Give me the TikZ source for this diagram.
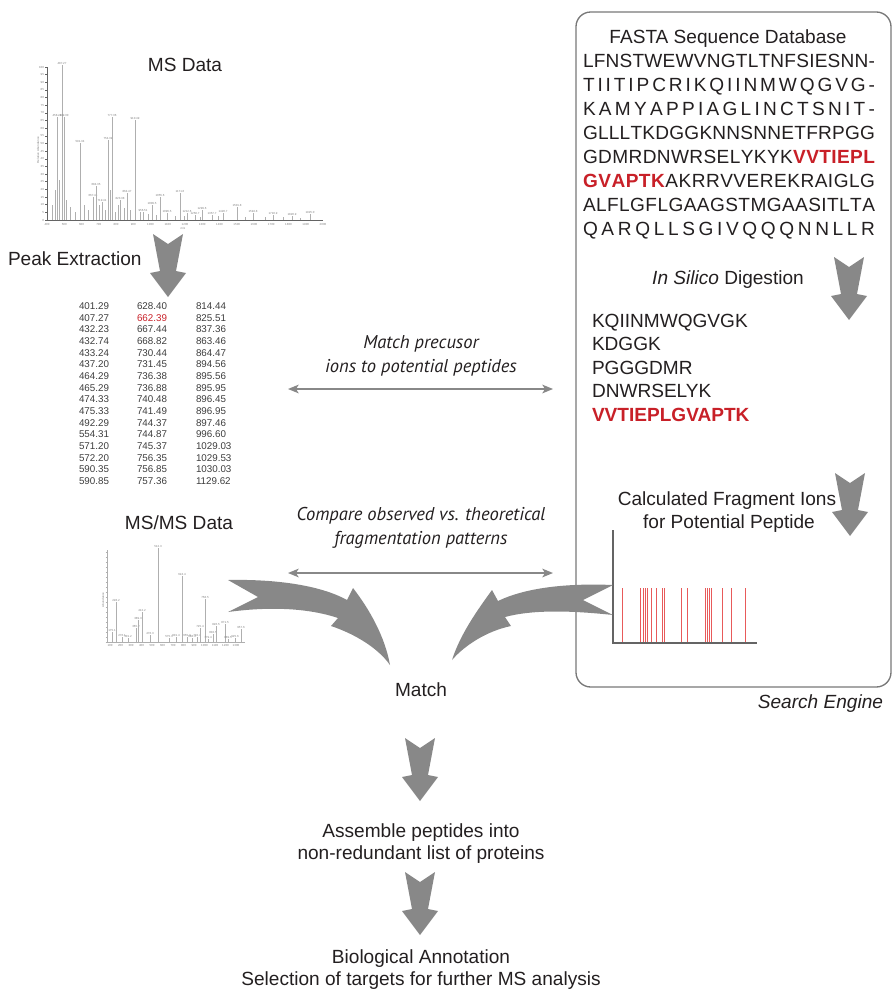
\documentclass[tikz,border=0pt]{standalone}
\usepackage{fontspec}
\setmainfont{Liberation Sans}
\newfontfamily\mpfont{PT Sans}
\usetikzlibrary{arrows.meta}
\definecolor{txt}{RGB}{35,31,32}
\definecolor{arr}{RGB}{136,136,136}
\definecolor{seqred}{RGB}{200,32,40}
\definecolor{fragred}{RGB}{232,90,90}
\definecolor{tabgray}{RGB}{60,60,60}
\definecolor{speccol}{RGB}{175,175,175}
\definecolor{boxcol}{RGB}{120,120,120}
\definecolor{axcol}{RGB}{100,100,100}
\newcommand\mainsz{\fontsize{14.3pt}{17pt}\selectfont}
\def\spr#1{#1\futurelet\sprnext\sprb}
\def\sprglue{\hskip 0pt plus 1fil minus 1fil\relax}
\def\sprb{\ifx\sprnext\relax\expandafter\sprstop\else\sprglue\expandafter\spr\fi}
\def\sprstop\relax{}
\newcommand\seqline[1]{\hbox to 219pt{#1}}
\begin{document}
\begin{tikzpicture}[x=0.75pt,y=-0.75pt,
  every node/.style={inner sep=0pt, outer sep=0pt, text=txt},
  lab/.style={font=\mainsz, anchor=base},
  labw/.style={font=\mainsz, anchor=base west},
  itl/.style={font=\mpfont\itshape\fontsize{13.9pt}{16pt}\selectfont, anchor=base},
  tab/.style={font=\fontsize{7.35pt}{8pt}\selectfont, text=tabgray, anchor=base west},
  tinyl/.style={font=\fontsize{2.2pt}{2.5pt}\selectfont, text=gray},
  spec/.style={draw=speccol, line width=0.35pt},
  axis/.style={draw=axcol, line width=0.4pt},
  dbl/.style={draw=arr, line width=1.1pt, {Stealth[length=8pt,width=6.5pt,inset=2pt]}-{Stealth[length=8pt,width=6.5pt,inset=2pt]}},
  blockdown/.pic={\fill[arr] (-15,0) -- (0,10) -- (15,0) -- (8,37) -- (18,39) -- (0,63) -- (-18,39) -- (-8,37) -- cycle;}
]
\useasboundingbox (0,0) rectangle (893,993);

% ---------------- MS Data ----------------
\node[lab] (msdata) at (185,71) {MS Data};
\draw[axis] (47,67) -- (47,220) -- (323,220);
\foreach \k in {0,...,20} {
  \draw[axis] (45,{220-7.65*\k}) -- (47,{220-7.65*\k});
  \pgfmathtruncatemacro\lbl{5*\k}
  \node[tinyl, anchor=east] (my\k) at (44,{220-7.65*\k}) {\lbl};
}
\foreach \k in {0,...,16} {
  \pgfmathtruncatemacro\lbl{400+100*\k}
  \node[tinyl] (mx\k) at ({47+17.25*\k},224) {\lbl};
}
\node[tinyl, rotate=90] (myl) at (38,150) {Relative Abundance};
\node[tinyl] (mxl) at (183,228) {m/z};
\foreach \x/\t/\l [count=\i] in {57/117/458.21, 62/65/487.27, 64/117/499.30, 80/143/591.34,
  93/197/667.44, 96/186/684.35, 102/202/719.41, 108/140/754.39, 112/117/777.36,
  120/200/823.38, 127/193/864.47, 135/120/910.49, 143/212/956.51, 152/205/1009.5,
  160/197/1055.6, 167/213/1096.5, 180/193/1171.6, 187/213/1212.6, 195/215/1258.7,
  202/210/1299.6, 212/215/1357.7, 223/213/1420.7, 237/207/1501.8, 253/213/1594.8,
  273/215/1710.9, 292/216/1820.9, 310/214/1925.0} {
  \draw[spec] (\x,220) -- (\x,\t);
  \node[tinyl, anchor=south] (mp\i) at (\x,{\t-0.5}) {\l};
}
\foreach \x/\t in {52/205, 55/190, 59/180, 66/200, 70/207, 75/212, 84/205, 88/210,
  99/205, 105/210, 110/190, 115/212, 118/205, 124/208, 130/210, 140/212, 148/214,
  156/215, 175/216, 184/216, 200/217, 218/216, 245/217, 265/217, 283/217, 300/218} {
  \draw[spec] (\x,220) -- (\x,\t);
}

% ---------------- Peak Extraction ----------------
\node[labw] (peakex) at (8,265) {Peak Extraction};
\pic at (168,234) {blockdown};
\foreach \a/\b/\c [count=\i from 0] in {401.29/628.40/814.44, 407.27/{\textcolor{seqred}{662.39}}/825.51,
  432.23/667.44/837.36, 432.74/668.82/863.46, 433.24/730.44/864.47, 437.20/731.45/894.56,
  464.29/736.38/895.56, 465.29/736.88/895.95, 474.33/740.48/896.45, 475.33/741.49/896.95,
  492.29/744.37/897.46, 554.31/744.87/996.60, 571.20/745.37/1029.03, 572.20/756.35/1029.53,
  590.35/756.85/1030.03, 590.85/757.36/1129.62} {
  \node[tab] (ta\i) at (79,309.5+11.67*\i) {\a};
  \node[tab] (tb\i) at (137,309.5+11.67*\i) {\b};
  \node[tab] (tc\i) at (196,309.5+11.67*\i) {\c};
}

% ---------------- Search engine box ----------------
\node[draw=boxcol, rounded corners=11pt, line width=1pt, minimum width=236.25pt,
  minimum height=506.25pt, anchor=north west] (searchbox) at (576,12) {};
\node[lab] (fasta) at (728,43) {FASTA Sequence Database};
\node[labw] (s1) at (583,67) {\mainsz\seqline{\spr LFNSTWEWVNGTLTNFSIESNN-\relax}};
\node[labw] (s2) at (583,91) {\mainsz\seqline{\spr TIITIPCRIKQIINMWQGVG-\relax}};
\node[labw] (s3) at (583,115) {\mainsz\seqline{\spr KAMYAPPIAGLINCTSNIT-\relax}};
\node[labw] (s4) at (583,139) {\mainsz\seqline{\spr GLLLTKDGGKNNSNNETFRPGG\relax}};
\node[labw] (s5) at (583,163) {\mainsz\seqline{\spr GDMRDNWRSELYKYK\relax\sprglue{\color{seqred}\bfseries\spr VVTIEPL\relax}}};
\node[labw] (s6) at (583,187) {\mainsz\seqline{{\color{seqred}\bfseries\spr GVAPTK\relax}\sprglue\spr AKRRVVEREKRAIGLG\relax}};
\node[labw] (s7) at (583,211) {\mainsz\seqline{\spr ALFLGFLGAAGSTMGAASITLTA\relax}};
\node[labw] (s8) at (583,235) {\mainsz\seqline{\spr QARQLLSGIVQQQNNLLR\relax}};
\pic at (849,257) {blockdown};
\node[lab] (digest) at (728,284) {\textit{In Silico} Digestion};
\node[labw] (p1) at (592,327) {KQIINMWQGVGK};
\node[labw] (p2) at (592,350.5) {KDGGK};
\node[labw] (p3) at (592,374) {PGGGDMR};
\node[labw] (p4) at (592,397.5) {DNWRSELYK};
\node[labw, text=seqred, font=\mainsz\bfseries] (p5) at (592,421) {VVTIEPLGVAPTK};
\pic at (850,473) {blockdown};
\node[lab] (calc1) at (727,505) {Calculated Fragment Ions};
\node[lab] (calc2) at (729,528) {for Potential Peptide};
\foreach \x in {622,640,643,645,647.5,651,656,662,664,681,687,705,707,709,711,722,731,745} {
  \draw[draw=fragred, line width=0.6pt] (\x,588) -- (\x,642);
}
\draw[draw=axcol, line width=0.9pt] (613,530) -- (613,643) -- (757,643);
\node[font=\mainsz\itshape, anchor=base east] (se) at (883,708) {Search Engine};

% ---------------- middle labels ----------------
\node[itl] (mp1) at (421,348) {Match precusor};
\node[itl] (mp2) at (421,372) {ions to potential peptides};
\coordinate (m1l) at (288,389);
\coordinate (m1r) at (553,389);
\draw[dbl] (m1l) -- (m1r);
\node[itl] (cp1) at (421,520) {Compare observed vs. theoretical};
\node[itl] (cp2) at (421,544) {fragmentation patterns};
\coordinate (m2l) at (288,573);
\coordinate (m2r) at (553,573);
\draw[dbl] (m2l) -- (m2r);

% ---------------- MS/MS Data ----------------
\node[lab] (msms) at (179,529) {MS/MS Data};
\draw[axis, draw=speccol] (107,550) -- (107,642) -- (245,642);
\foreach \k in {0,...,18} {
  \draw[spec] (105.5,{642-5*\k}) -- (107,{642-5*\k});
}
\node[tinyl, rotate=90] (msyl) at (103,600) {Abundance};
\foreach \x/\t/\l [count=\i] in {112/632/175.1, 116/602/228.2, 122/637/276.1, 128/638/301.2,
  136/628/365.2, 138/620/389.3, 142/612/412.2, 150/635/476.3, 158/548/512.3, 169/638/575.3,
  176/637/601.4, 182/576/624.4, 187/637/655.3, 192/638/688.4, 197/637/702.4, 200/628/725.4,
  205/599/758.5, 208/639/779.4, 213/634/802.5, 216/626/826.5, 225/624/871.5, 228/639/889.5,
  235/638/925.6, 241/629/957.6} {
  \draw[spec] (\x,642) -- (\x,\t);
  \node[tinyl, anchor=south] (sp\i) at (\x,{\t-0.5}) {\l};
}
\foreach \k in {0,...,12} {
  \pgfmathtruncatemacro\lbl{100+100*\k}
  \node[tinyl] (sx\k) at ({110+10.5*\k},645) {\lbl};
}

% ---------------- curved arrows into Match ----------------
\fill[arr] (228,580) .. controls (275,579) and (320,585) .. (347,600) -- (353,588)
  .. controls (370,610) and (385,637) .. (390,665)
  .. controls (378,648) and (355,634) .. (331,626) -- (338,618)
  .. controls (305,607) and (265,607) .. (228,612) -- (258,597) -- cycle;
\fill[arr] (613,585) .. controls (565,583) and (525,588) .. (498,601) -- (492,590)
  .. controls (476,612) and (460,635) .. (452,660)
  .. controls (465,645) and (487,631) .. (511,626) -- (505,617)
  .. controls (535,609) and (575,611) .. (613,615) -- (583,600) -- cycle;

\node[lab] (match) at (421,696) {Match};
\pic at (420,738) {blockdown};
\node[lab] (asm1) at (421,837) {Assemble peptides into};
\node[lab] (asm2) at (421,859) {non-redundant list of proteins};
\pic at (420,872) {blockdown};
\node[lab] (bio1) at (421,963) {Biological Annotation};
\node[lab] (bio2) at (421,985) {Selection of targets for further MS analysis};
\end{tikzpicture}
\end{document}
